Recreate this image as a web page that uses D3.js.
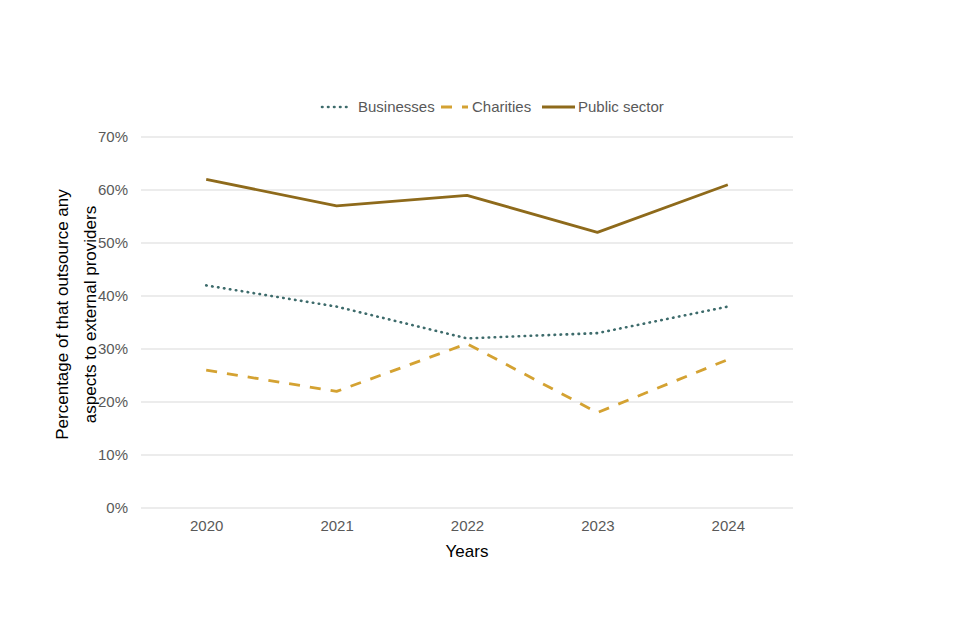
<!DOCTYPE html>
<html><head><meta charset="utf-8">
<script src="https://cdn.jsdelivr.net/npm/d3@7"></script>
<style>body{margin:0;background:#fff;} text{font-family:"Liberation Sans",Arial,sans-serif;}</style>
</head><body>
<svg id="c" width="960" height="640"></svg>
<script>
const years = ["2020","2021","2022","2023","2024"];
const businesses = [42,38,32,33,38];
const charities = [26,22,31,18,28];
const publicSector = [62,57,59,52,61];
const yTicks = [0,10,20,30,40,50,60,70];
const seriesNames = ["Businesses","Charities","Public sector"];

const series = [
  {name:seriesNames[0], values:businesses, color:"#3d6b6b", dash:"0.5,5.5", width:2.6, cap:"round"},
  {name:seriesNames[1], values:charities, color:"#d4a232", dash:"11,10", width:2.8, cap:"butt"},
  {name:seriesNames[2], values:publicSector, color:"#8e6a1b", dash:null, width:2.8, cap:"butt"}
];

const svg = d3.select("#c");
const L=141, R=793, T=137, B=508;
const x = d3.scalePoint().domain(years).range([L,R]).padding(0.5);
const y = d3.scaleLinear().domain([0,70]).range([B,T]);

svg.append("g").selectAll("line").data(yTicks).join("line")
  .attr("x1",L).attr("x2",R).attr("y1",d=>y(d)).attr("y2",d=>y(d))
  .attr("stroke","#d9d9d9").attr("stroke-width",1);

const yAxis = svg.append("g").attr("transform",`translate(${L},0)`)
  .call(d3.axisLeft(y).tickValues(yTicks).tickFormat(d=>d+"%").tickSize(0).tickPadding(13));
yAxis.select(".domain").remove();
yAxis.selectAll("text").attr("fill","#595959").style("font-size","15px").style("font-family","Liberation Sans, Arial, sans-serif");

const xAxis = svg.append("g").attr("transform",`translate(0,${B})`)
  .call(d3.axisBottom(x).tickSize(0).tickPadding(12));
xAxis.select(".domain").remove();
xAxis.selectAll("text").attr("fill","#595959").style("font-size","15px").style("font-family","Liberation Sans, Arial, sans-serif");

svg.append("text").attr("x",(L+R)/2).attr("y",557).attr("text-anchor","middle")
  .attr("fill","#000").style("font-size","17px").text("Years");

const yt = svg.append("text").attr("transform",`translate(0,${(T+B)/2 - 8}) rotate(-90)`)
  .attr("text-anchor","middle").attr("fill","#000").style("font-size","17px");
yt.append("tspan").attr("x",0).attr("y",68).text("Percentage of that outsource any");
yt.append("tspan").attr("x",0).attr("y",96).text("aspects to external providers");

const line = d3.line().x((d,i)=>x(years[i])).y(d=>y(d));
series.forEach(s=>{
  svg.append("path").datum(s.values).attr("d",line)
    .attr("fill","none").attr("stroke",s.color).attr("stroke-width",s.width)
    .attr("stroke-dasharray",s.dash).attr("stroke-linecap",s.cap).attr("stroke-linejoin","round");
});

const legendPos = [{sx:322,ex:352,tx:358},{sx:441,ex:468,tx:472},{sx:542,ex:575,tx:578}];
const ly = 107;
series.forEach((s,i)=>{
  const p = legendPos[i];
  svg.append("line").attr("x1",p.sx).attr("x2",p.ex).attr("y1",ly).attr("y2",ly)
    .attr("stroke",s.color).attr("stroke-width",s.width).attr("stroke-dasharray",s.dash).attr("stroke-linecap",s.cap);
  svg.append("text").attr("x",p.tx).attr("y",ly+5).attr("fill","#595959").style("font-size","15px").text(s.name);
});
</script>
</body></html>
